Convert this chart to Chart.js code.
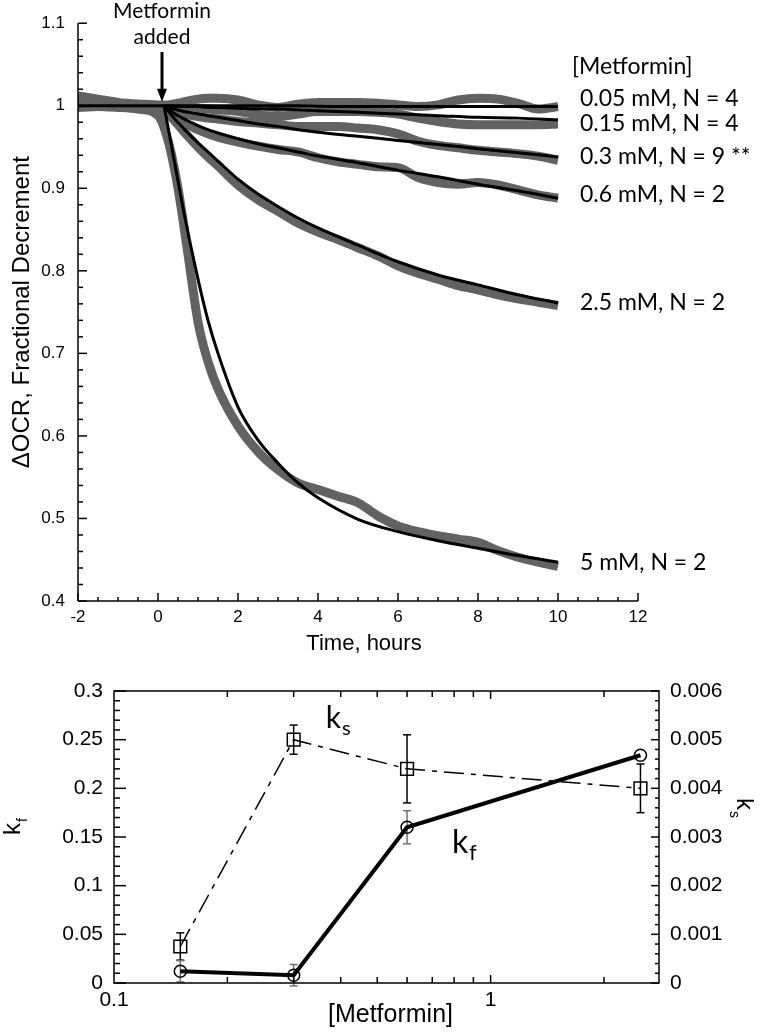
<!DOCTYPE html>
<html>
<head>
<meta charset="utf-8">
<script src="https://cdn.jsdelivr.net/npm/chart.js@4.4.1/dist/chart.umd.min.js"></script>
<style>
body { margin: 0; background: #fff; }
#wrap { position: relative; width: 765px; height: 1036px; }
canvas { position: absolute; left: 0; }
</style>
</head>
<body>
<div id="wrap">
<canvas id="top" width="765" height="665" style="top:0"></canvas>
<canvas id="bottom" width="765" height="371" style="top:665px"></canvas>
</div>
<script>
// ---- top panel: OCR traces (gray = measured, black = fit) ----
const tData = [-2, -1.5, -1, -0.5, 0, 0.25, 0.5, 0.75, 1, 1.25, 1.5, 2, 2.5, 3, 3.5, 4, 4.5, 5, 5.5, 6, 6.5, 7, 7.5, 8, 8.5, 9, 9.5, 10];
const tFit = [0.15, 0.4, 0.65, 1, 1.25, 1.5, 2, 2.5, 3, 3.5, 4, 5, 6, 7, 8, 9, 10];
const tBase = [-2, 0.15];
const baseFit = [1, 1];

const concLabels = ['0.05 mM, N = 4', '0.15 mM, N = 4', '0.3 mM, N = 9 **', '0.6 mM, N = 2', '2.5 mM, N = 2', '5 mM, N = 2'];

const data005 = [1.012, 1.008, 1.004, 1.002, 1.001, 1.001, 1.003, 1.006, 1.008, 1.009, 1.009, 1.007, 1.001, 0.998, 1.002, 1.004, 1.004, 1.004, 1.003, 1.001, 0.999, 1.001, 1.007, 1.009, 1.008, 1.003, 0.996, 0.999];
const data015 = [1.004, 1.002, 1.0, 1.0, 0.999, 0.999, 0.998, 0.998, 0.997, 0.996, 0.995, 0.993, 0.989, 0.987, 0.99, 0.993, 0.993, 0.993, 0.992, 0.99, 0.985, 0.981, 0.978, 0.977, 0.977, 0.977, 0.977, 0.978];
const data03 = [1.0, 1.0, 1.0, 1.0, 1.0, 0.996, 0.992, 0.989, 0.987, 0.985, 0.984, 0.981, 0.979, 0.977, 0.975, 0.975, 0.975, 0.973, 0.971, 0.966, 0.957, 0.952, 0.949, 0.946, 0.944, 0.942, 0.939, 0.934];
const data06 = [0.998, 0.999, 1.0, 1.0, 0.999, 0.99, 0.983, 0.977, 0.971, 0.966, 0.962, 0.956, 0.951, 0.947, 0.944, 0.937, 0.932, 0.929, 0.926, 0.925, 0.913, 0.907, 0.905, 0.907, 0.904, 0.898, 0.892, 0.888];
const data25 = [1.003, 1.001, 1.0, 1.0, 0.999, 0.99, 0.977, 0.963, 0.95, 0.938, 0.927, 0.904, 0.886, 0.872, 0.858, 0.847, 0.838, 0.828, 0.818, 0.806, 0.797, 0.79, 0.782, 0.777, 0.771, 0.766, 0.762, 0.758];
const data5 = [1.0, 0.999, 0.998, 0.996, 0.988, 0.958, 0.9, 0.82, 0.738, 0.69, 0.657, 0.612, 0.581, 0.559, 0.543, 0.535, 0.527, 0.519, 0.503, 0.491, 0.484, 0.479, 0.475, 0.471, 0.461, 0.453, 0.447, 0.442];

const fit005 = [1.0, 1.0, 1.0, 1.0, 1.0, 1.0, 1.0, 1.0, 1.0, 1.0, 0.9995, 0.999, 0.999, 0.999, 0.999, 0.999, 0.999];
const fit015 = [1.0, 0.9995, 0.999, 0.999, 0.998, 0.998, 0.997, 0.996, 0.996, 0.995, 0.994, 0.992, 0.99, 0.988, 0.986, 0.985, 0.983];
const fit03 = [1.0, 0.996, 0.993, 0.99, 0.988, 0.986, 0.982, 0.978, 0.975, 0.971, 0.968, 0.963, 0.958, 0.953, 0.948, 0.943, 0.938];
const fit06 = [1.0, 0.991, 0.984, 0.976, 0.971, 0.967, 0.96, 0.954, 0.949, 0.944, 0.939, 0.931, 0.922, 0.914, 0.905, 0.897, 0.888];
const fit25 = [1.0, 0.985, 0.972, 0.955, 0.944, 0.933, 0.911, 0.893, 0.878, 0.864, 0.852, 0.831, 0.811, 0.795, 0.783, 0.771, 0.761];
const fit5 = [1.0, 0.935, 0.87, 0.79, 0.74, 0.7, 0.635, 0.595, 0.567, 0.543, 0.525, 0.499, 0.484, 0.473, 0.464, 0.455, 0.447];

const dataSeries = [data005, data015, data03, data06, data25, data5];
const fitSeries = [fit005, fit015, fit03, fit06, fit25, fit5];

// where the right-hand labels sit (in y units)
const labelY = [1.0084, 0.978, 0.939, 0.892, 0.762, 0.447];
const headerY = 1.048;

// ---- bottom panel: rate constants ----
const conc = [0.15, 0.3, 0.6, 2.5];
const kf = [0.012, 0.008, 0.16, 0.234];
const kfErr = [0.011, 0.011, 0.017, 0];
const ks = [0.00075, 0.005, 0.0044, 0.004];
const ksErr = [0.00028, 0.0003, 0.0007, 0.0005];
const logTicks = [0.2, 0.3, 0.4, 0.5, 0.6, 0.7, 0.8, 0.9, 1, 2];

const SANS = "'Liberation Sans', Arial, sans-serif";
const LABEL = "Lato, 'Open Sans', sans-serif";

function toXY(ts, vs) {
    return ts.map((t, i) => ({ x: t, y: vs[i] }));
}

function line(ctx, x1, y1, x2, y2) {
    ctx.beginPath();
    ctx.moveTo(x1, y1);
    ctx.lineTo(x2, y2);
    ctx.stroke();
}

let datasetsTop = [];
datasetsTop.push({ data: toXY(tBase, baseFit), borderColor: '#000', borderWidth: 3, pointRadius: 0, order: 0 });
for (let i = 0; i < fitSeries.length; i++) {
    datasetsTop.push({ data: toXY(tFit, fitSeries[i]), borderColor: '#000', borderWidth: 3, pointRadius: 0, cubicInterpolationMode: 'monotone', order: 0 });
}
for (let i = 0; i < dataSeries.length; i++) {
    datasetsTop.push({ data: toXY(tData, dataSeries[i]), borderColor: '#626262', borderWidth: 9, pointRadius: 0, cubicInterpolationMode: 'monotone', order: 1 });
}

const topDecor = {
    id: 'topDecor',
    afterDraw(chart) {
        const ctx = chart.ctx;
        const a = chart.chartArea;
        const xs = chart.scales.x, ys = chart.scales.y;
        ctx.save();
        ctx.strokeStyle = '#000';
        ctx.lineWidth = 1.5;
        line(ctx, a.left, a.top, a.left, a.bottom);
        line(ctx, a.left, a.bottom, a.right, a.bottom);
        // inward ticks
        for (let i = 0; i <= 28; i++) {
            const px = xs.getPixelForValue(-2 + i * 0.5);
            line(ctx, px, a.bottom, px, a.bottom - (i % 4 == 0 ? 8 : 4));
        }
        for (let i = 0; i <= 35; i++) {
            const py = ys.getPixelForValue(0.4 + i * 0.02);
            line(ctx, a.left, py, a.left + (i % 5 == 0 ? 9 : 5), py);
        }

        ctx.fillStyle = '#000';
        // axis titles
        ctx.font = '22px ' + SANS;
        ctx.textAlign = 'center';
        ctx.textBaseline = 'middle';
        ctx.fillText('Time, hours', (a.left + a.right) / 2 + 6, a.bottom + 43);
        ctx.save();
        ctx.translate(22, (a.top + a.bottom) / 2);
        ctx.rotate(-Math.PI / 2);
        ctx.font = '24px ' + SANS;
        ctx.fillText('\u0394OCR, Fractional Decrement', 0, 0);
        ctx.restore();

        // metformin added marker
        const ax = xs.getPixelForValue(0.1);
        const tip = ys.getPixelForValue(1.0) - 4;
        ctx.font = '21px ' + LABEL;
        ctx.fillText('Metformin', ax, 11);
        ctx.fillText('added', ax, 37);
        ctx.lineWidth = 3;
        line(ctx, ax, 52, ax, tip - 10);
        ctx.beginPath();
        ctx.moveTo(ax - 5, tip - 13);
        ctx.lineTo(ax + 5, tip - 13);
        ctx.lineTo(ax, tip);
        ctx.closePath();
        ctx.fill();

        // concentration labels
        const lx = xs.getPixelForValue(10) + 22;
        ctx.textAlign = 'left';
        ctx.font = '23px ' + LABEL;
        ctx.fillText('[Metformin]', lx - 8, ys.getPixelForValue(headerY));
        for (let i = 0; i < concLabels.length; i++) {
            ctx.fillText(concLabels[i], lx, ys.getPixelForValue(labelY[i]));
        }
        ctx.restore();
    }
};

new Chart(document.getElementById('top'), {
    type: 'line',
    data: { datasets: datasetsTop },
    options: {
        responsive: false,
        animation: false,
        layout: { padding: { left: 0, right: 127, top: 18, bottom: 0 } },
        plugins: { legend: { display: false }, tooltip: { enabled: false } },
        scales: {
            x: {
                type: 'linear', min: -2, max: 12,
                afterFit: (s) => { s.height = 64; },
                grid: { display: false, drawTicks: false },
                border: { display: false },
                ticks: { stepSize: 2, padding: 6, color: '#000', font: { family: SANS, size: 17 } }
            },
            y: {
                min: 0.4, max: 1.1,
                afterFit: (s) => { s.width = 78; },
                grid: { display: false, drawTicks: false },
                border: { display: false },
                ticks: { stepSize: 0.1, padding: 13, color: '#000', font: { family: SANS, size: 17 },
                         callback: (v) => String(+v.toFixed(2)) }
            }
        }
    },
    plugins: [topDecor]
});

// ---- bottom chart ----
function drawK(ctx, x, y, sub, size, subSize) {
    ctx.font = size + 'px ' + LABEL;
    ctx.fillText('k', x, y);
    const w = ctx.measureText('k').width;
    ctx.font = subSize + 'px ' + LABEL;
    ctx.fillText(sub, x + w + 1, y + subSize * 0.35);
}

const bottomDecor = {
    id: 'bottomDecor',
    beforeDatasetsDraw(chart) {
        const ctx = chart.ctx;
        const xs = chart.scales.x, y1 = chart.scales.y, y2 = chart.scales.y2;
        ctx.save();
        ctx.lineWidth = 1.5;
        for (let i = 0; i < conc.length; i++) {
            const px = xs.getPixelForValue(conc[i]);
            ctx.strokeStyle = '#000';
            if (ksErr[i] > 0) {
                const a = y2.getPixelForValue(ks[i] - ksErr[i]), b = y2.getPixelForValue(ks[i] + ksErr[i]);
                line(ctx, px, a, px, b);
                line(ctx, px - 4, a, px + 4, a);
                line(ctx, px - 4, b, px + 4, b);
            }
            ctx.strokeStyle = '#707070';
            if (kfErr[i] > 0) {
                const a = y1.getPixelForValue(kf[i] - kfErr[i]), b = y1.getPixelForValue(kf[i] + kfErr[i]);
                line(ctx, px, a, px, b);
                line(ctx, px - 4, a, px + 4, a);
                line(ctx, px - 4, b, px + 4, b);
            }
        }
        ctx.restore();
    },
    afterDraw(chart) {
        const ctx = chart.ctx;
        const a = chart.chartArea;
        const xs = chart.scales.x, y1 = chart.scales.y, y2 = chart.scales.y2;
        ctx.save();
        ctx.strokeStyle = '#000';
        ctx.lineWidth = 1.5;
        ctx.strokeRect(a.left, a.top, a.right - a.left, a.bottom - a.top);
        for (let i = 0; i <= 30; i++) {
            const p1 = y1.getPixelForValue(i * 0.01);
            line(ctx, a.left, p1, a.left + (i % 5 == 0 ? 12 : 6), p1);
            const p2 = y2.getPixelForValue(i * 0.0002);
            line(ctx, a.right, p2, a.right - (i % 5 == 0 ? 8 : 4), p2);
        }
        for (const v of logTicks) {
            const px = xs.getPixelForValue(v);
            const len = v == 1 ? 8 : 6;
            line(ctx, px, a.bottom, px, a.bottom - len);
            line(ctx, px, a.top, px, a.top + len);
        }

        ctx.fillStyle = '#000';
        ctx.textAlign = 'center';
        ctx.textBaseline = 'middle';
        ctx.font = '25px ' + SANS;
        ctx.fillText('[Metformin]', (a.left + a.right) / 2 + 4, a.bottom + 32);

        // axis titles k_f (left) and k_s (right)
        ctx.textAlign = 'left';
        ctx.textBaseline = 'alphabetic';
        ctx.save();
        ctx.translate(20, a.top + 136);
        ctx.rotate(-Math.PI / 2);
        ctx.font = '24px ' + SANS;
        ctx.fillText('k', -8, 0);
        ctx.font = '14px ' + SANS;
        ctx.fillText('f', 5, 7);
        ctx.restore();
        ctx.save();
        ctx.translate(737, a.top + 107);
        ctx.rotate(Math.PI / 2);
        ctx.font = '24px ' + SANS;
        ctx.fillText('k', 0, 0);
        ctx.font = '14px ' + SANS;
        ctx.fillText('s', 13, 7);
        ctx.restore();

        // in-plot labels
        drawK(ctx, xs.getPixelForValue(0.365), y1.getPixelForValue(0.262), 's', 30, 20);
        drawK(ctx, xs.getPixelForValue(0.79), y1.getPixelForValue(0.134), 'f', 32, 21);
        ctx.restore();
    }
};

new Chart(document.getElementById('bottom'), {
    type: 'line',
    data: {
        datasets: [
            { data: toXY(conc, kf), yAxisID: 'y', borderColor: '#000', borderWidth: 4,
              pointStyle: 'circle', pointRadius: 6, pointBorderWidth: 1.5,
              pointBorderColor: '#000', pointBackgroundColor: 'rgba(0,0,0,0)' },
            { data: toXY(conc, ks), yAxisID: 'y2', borderColor: '#000', borderWidth: 1.5,
              borderDash: [20, 7, 5, 7],
              pointStyle: 'rect', pointRadius: 9, pointBorderWidth: 1.5,
              pointBorderColor: '#000', pointBackgroundColor: 'rgba(0,0,0,0)' }
        ]
    },
    options: {
        responsive: false,
        animation: false,
        layout: { padding: { left: 0, right: 0, top: 26, bottom: 0 } },
        plugins: { legend: { display: false }, tooltip: { enabled: false } },
        scales: {
            x: {
                type: 'logarithmic', min: 0.1, max: 2.8,
                afterFit: (s) => { s.height = 53; },
                grid: { display: false, drawTicks: false },
                border: { display: false },
                ticks: { padding: 5, color: '#000', font: { family: SANS, size: 21 }, autoSkip: false, maxRotation: 0,
                         callback: (v) => (Math.abs(v - 0.1) < 1e-9 ? '0.1' : (Math.abs(v - 1) < 1e-9 ? '1' : '')) }
            },
            y: {
                position: 'left', min: 0, max: 0.3,
                afterFit: (s) => { s.width = 114; },
                grid: { display: false, drawTicks: false },
                border: { display: false },
                ticks: { stepSize: 0.05, padding: 11, color: '#000', font: { family: SANS, size: 21 },
                         callback: (v) => String(+v.toFixed(2)) }
            },
            y2: {
                position: 'right', min: 0, max: 0.006,
                afterFit: (s) => { s.width = 106; },
                grid: { display: false, drawTicks: false },
                border: { display: false },
                ticks: { stepSize: 0.001, padding: 11, color: '#000', font: { family: SANS, size: 21 },
                         callback: (v) => (v == 0 ? '0' : v.toFixed(3)) }
            }
        }
    },
    plugins: [bottomDecor]
});
</script>
</body>
</html>
